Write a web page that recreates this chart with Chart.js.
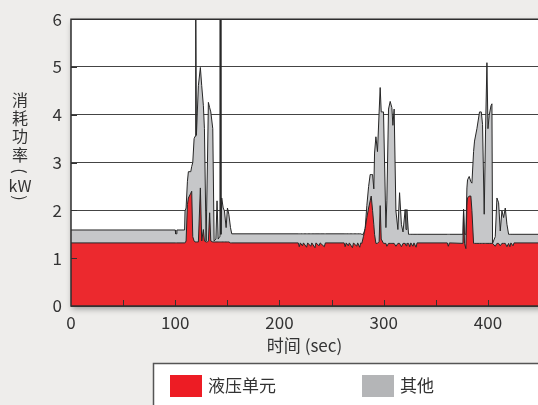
<!DOCTYPE html>
<html>
<head>
<meta charset="utf-8">
<script src="https://cdn.jsdelivr.net/npm/chart.js@4/dist/chart.umd.min.js"></script>
<style>
  html, body { margin: 0; padding: 0; background: #eeedeb; }
  canvas { display: block; }
</style>
</head>
<body>
<canvas id="powerChart" width="538" height="405"></canvas>
<script>
// 数据：时间 (sec)
const times = [
  0, 100.0, 100.4, 101.2, 101.6, 109.0,
  109.4, 110.4, 111.7, 112.6, 114.9, 115.8, 116.8, 118.1, 119.0, 119.6, 120.3, 122.2, 124.1, 125.4,
  127.0, 128.0, 129.6, 130.9, 131.8, 133.0, 134.1, 136.0, 137.3, 139.0, 140.1, 141.2, 142.6, 142.9,
  143.5, 143.8, 144.6, 146.0, 147.2, 148.8, 150.1, 151.4, 153.0, 154.2,
  218, 219, 220, 222, 223, 226, 227, 230, 231, 234, 235, 238, 239, 243, 244,
  262, 263, 264, 266, 267, 270, 271, 274, 275, 277, 278,
  279.0, 280.5, 282.2, 283.8, 285.5, 287.0, 288.0, 289.3, 290.5, 291.2, 292.5, 294.0, 295.6, 296.6,
  297.6, 299.8, 302.1, 303.0, 304.6, 306.2, 307.8, 308.8, 310.0, 311.7, 313.6, 315.2, 317.0, 318.5,
  320.6, 321.4, 322.2, 323.8, 325, 326, 328, 329, 331, 332, 361, 362, 363,
  376.0, 376.6, 377.5, 378.8, 379.8, 380.4, 382.0, 383.6, 384.6, 386.2, 387.1, 389.4, 391.9, 393.6,
  394.8, 396.4, 397.7, 399.0, 400.0, 401.2, 402.9, 403.8, 404.4, 407.0, 408.6, 410.2, 411.8, 413.4,
  415.0, 416.6, 418.2, 419.8, 421, 422, 424, 425, 448
];

// 液压单元 (kW)
const hydraulic = [
  1.32, 1.32, 1.32, 1.32, 1.32, 1.32,
  1.32, 1.36, 2.12, 2.26, 2.36, 2.40, 1.45, 1.36, 1.34, 1.34, 1.34, 1.34, 2.47, 1.36,
  1.60, 1.36, 1.34, 1.34, 1.36, 1.95, 1.36, 1.34, 1.34, 1.34, 1.34, 1.34, 1.34, 1.34,
  1.34, 1.34, 1.34, 1.34, 1.34, 1.34, 1.34, 1.34, 1.32, 1.32,
  1.32, 1.24, 1.32, 1.26, 1.32, 1.23, 1.32, 1.25, 1.32, 1.22, 1.32, 1.26, 1.32, 1.24, 1.32,
  1.32, 1.24, 1.32, 1.26, 1.32, 1.22, 1.32, 1.25, 1.32, 1.23, 1.32,
  1.31, 1.45, 1.62, 1.85, 2.05, 2.20, 2.30, 2.00, 1.70, 1.50, 1.31, 1.31, 1.35, 2.10,
  1.40, 1.31, 1.31, 1.25, 1.31, 1.31, 1.31, 1.31, 1.31, 1.25, 1.31, 1.31, 1.24, 1.31,
  1.31, 1.26, 1.31, 1.31, 1.24, 1.32, 1.25, 1.32, 1.23, 1.32, 1.32, 1.25, 1.32,
  1.31, 2.02, 1.31, 1.20, 2.10, 2.26, 2.30, 2.30, 2.00, 1.31, 1.31, 1.31, 1.31, 1.31,
  1.31, 1.31, 1.31, 1.31, 1.31, 1.31, 1.31, 1.31, 1.31, 1.25, 1.31, 1.31, 1.26, 1.31,
  1.31, 1.31, 1.24, 1.31, 1.24, 1.32, 1.26, 1.32, 1.32
];

// 合计 (液压单元 + 其他) (kW)
const total = [
  1.59, 1.59, 1.51, 1.51, 1.59, 1.59,
  1.99, 2.05, 2.61, 2.81, 2.81, 2.92, 3.00, 3.50, 3.55, 7.00, 3.57, 4.61, 4.99, 4.61,
  4.19, 3.71, 1.36, 3.00, 4.26, 4.15, 4.06, 3.71, 1.36, 1.40, 2.20, 1.40, 1.45, 7.00,
  7.00, 1.50, 2.26, 2.05, 1.99, 1.64, 2.05, 1.92, 1.64, 1.51,
  1.51, 1.51, 1.51, 1.51, 1.51, 1.51, 1.51, 1.51, 1.51, 1.51, 1.51, 1.51, 1.51, 1.51, 1.51,
  1.51, 1.51, 1.51, 1.51, 1.51, 1.51, 1.51, 1.51, 1.51, 1.51, 1.51,
  1.50, 1.50, 1.62, 2.10, 2.50, 2.75, 2.75, 2.75, 2.45, 3.20, 3.54, 3.23, 4.06, 4.57,
  4.06, 4.06, 1.64, 2.20, 4.12, 4.28, 4.15, 3.78, 4.12, 1.99, 1.60, 2.37, 1.70, 1.55,
  2.02, 1.60, 2.02, 1.50, 1.50, 1.50, 1.50, 1.50, 1.50, 1.50, 1.50, 1.50, 1.50,
  1.50, 2.02, 1.50, 1.50, 2.47, 2.64, 2.71, 2.60, 2.57, 3.23, 3.45, 3.71, 4.06, 4.06,
  3.80, 1.92, 3.70, 5.09, 3.71, 3.99, 4.19, 4.23, 1.31, 1.45, 2.26, 2.16, 1.57, 1.99,
  1.85, 2.05, 1.71, 1.50, 1.50, 1.50, 1.50, 1.50, 1.50
];

const seriesLabels = ['液压单元', '其他'];
const xMinorTicks = [50, 100, 150, 200, 250, 300, 350, 400];
const yTickValues = [1, 2, 3, 4, 5];
const yTitleChars = ['消', '耗', '功', '率'];
const yTitleUnit = ['(', 'kW', ')'];
const xTitle = '时间 (sec)';

const FONT = '"Noto Sans CJK SC", "Noto Sans", sans-serif';

// 背景、边框、刻度、标题和图例
const decorPlugin = {
    id: 'decor',
    beforeDraw(chart) {
        const { ctx, chartArea: a } = chart;
        ctx.save();
        ctx.fillStyle = '#eeedeb';
        ctx.fillRect(0, 0, chart.width, chart.height);
        ctx.shadowColor = 'rgba(0, 0, 0, 0.35)';
        ctx.shadowBlur = 6;
        ctx.shadowOffsetX = 1;
        ctx.shadowOffsetY = 3;
        ctx.fillStyle = '#ffffff';
        ctx.fillRect(a.left, a.top, a.right - a.left + 20, a.bottom - a.top);
        ctx.restore();
    },
    afterDatasetsDraw(chart) {
        const { ctx, chartArea: a, scales: { x, y } } = chart;
        ctx.save();
        ctx.strokeStyle = '#333333';
        ctx.lineWidth = 1;
        ctx.beginPath();
        xMinorTicks.forEach(t => {
            const px = Math.round(x.getPixelForValue(t)) + 0.5;
            ctx.moveTo(px, a.bottom);
            ctx.lineTo(px, a.bottom - 6);
        });
        yTickValues.forEach(v => {
            const py = Math.round(y.getPixelForValue(v)) + 0.5;
            ctx.moveTo(a.left, py);
            ctx.lineTo(a.left + 6, py);
        });
        ctx.stroke();

        ctx.lineWidth = 1.5;
        ctx.strokeStyle = '#2e2e2e';
        ctx.beginPath();
        ctx.moveTo(a.right + 2, a.top);
        ctx.lineTo(a.left, a.top);
        ctx.lineTo(a.left, a.bottom);
        ctx.lineTo(a.right + 2, a.bottom);
        ctx.stroke();
        ctx.restore();
    },
    afterDraw(chart) {
        const { ctx, chartArea: a } = chart;
        ctx.save();
        ctx.fillStyle = '#333333';
        ctx.textBaseline = 'middle';
        ctx.textAlign = 'center';

        // 纵轴标题（竖排）
        ctx.font = '16px ' + FONT;
        const yPos = [100, 118, 136, 155];
        yTitleChars.forEach((c, i) => ctx.fillText(c, 20, yPos[i]));
        // 单位：括号旋转 90°
        ctx.save();
        ctx.translate(20, 171);
        ctx.rotate(Math.PI / 2);
        ctx.fillText(yTitleUnit[0], 0, 0);
        ctx.restore();
        ctx.fillText(yTitleUnit[1], 20, 186);
        ctx.save();
        ctx.translate(20, 198);
        ctx.rotate(Math.PI / 2);
        ctx.fillText(yTitleUnit[2], 0, 0);
        ctx.restore();

        // 横轴标题
        ctx.font = '17px ' + FONT;
        ctx.fillText(xTitle, (a.left + a.right) / 2, 346);

        // 图例
        ctx.fillStyle = '#ffffff';
        ctx.fillRect(153, 363, 400, 60);
        ctx.strokeStyle = '#555555';
        ctx.lineWidth = 1.5;
        ctx.beginPath();
        ctx.moveTo(560, 363.5);
        ctx.lineTo(153.5, 363.5);
        ctx.lineTo(153.5, 410);
        ctx.stroke();

        const swatchX = [170, 362];
        ctx.textAlign = 'left';
        ctx.font = '17px ' + FONT;
        chart.data.datasets.forEach((ds, i) => {
            ctx.fillStyle = ds.legendColor;
            ctx.fillRect(swatchX[i], 375, 32, 22);
            ctx.fillStyle = '#333333';
            ctx.fillText(ds.label, swatchX[i] + 38, 386);
        });
        ctx.restore();
    }
};

const ctx = document.getElementById('powerChart').getContext('2d');

new Chart(ctx, {
    type: 'line',
    data: {
        datasets: [
            {
                label: seriesLabels[0],
                data: times.map((t, i) => ({ x: t, y: hydraulic[i] })),
                backgroundColor: '#ec292e',
                legendColor: '#ed1c24',
                borderColor: '#262626',
                borderWidth: 1,
                fill: 'origin',
                pointRadius: 0,
                tension: 0
            },
            {
                label: seriesLabels[1],
                data: times.map((t, i) => ({ x: t, y: total[i] })),
                backgroundColor: '#c6c7c9',
                legendColor: '#b4b5b7',
                borderColor: '#262626',
                borderWidth: 1,
                fill: 'origin',
                pointRadius: 0,
                tension: 0
            }
        ]
    },
    options: {
        responsive: false,
        animation: false,
        devicePixelRatio: 1,
        layout: { padding: { top: 16, left: 0, right: 0, bottom: 0 } },
        plugins: {
            legend: { display: false },
            tooltip: { enabled: false }
        },
        scales: {
            x: {
                type: 'linear',
                min: 0,
                max: 448,
                afterFit(scale) { scale.height = 99; },
                grid: { display: false, drawTicks: false },
                border: { display: false },
                ticks: {
                    stepSize: 100,
                    includeBounds: false,
                    padding: 6,
                    color: '#333333',
                    font: { size: 17, family: FONT },
                    maxRotation: 0,
                    callback: v => (v % 100 === 0 ? v : '')
                }
            },
            y: {
                min: 0,
                max: 6,
                afterFit(scale) { scale.width = 71; },
                grid: { color: '#444444', lineWidth: 1, drawTicks: false },
                border: { display: false },
                ticks: {
                    stepSize: 1,
                    padding: 9,
                    color: '#333333',
                    font: { size: 17, family: FONT }
                }
            }
        }
    },
    plugins: [decorPlugin]
});
</script>
</body>
</html>
